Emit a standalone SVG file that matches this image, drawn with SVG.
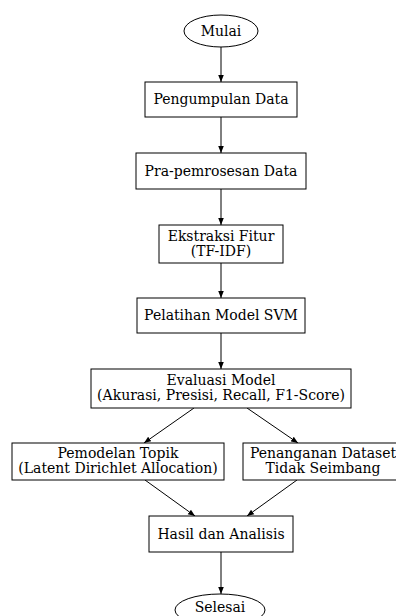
<svg xmlns="http://www.w3.org/2000/svg" width="396" height="616" viewBox="0 0 396 616">
<defs>
<marker id="ah" viewBox="0 0 10 10" refX="10" refY="5" markerWidth="7" markerHeight="7" markerUnits="userSpaceOnUse" orient="auto">
<path d="M0,1 L10,5 L0,9 z" fill="#000"/>
</marker>
<style>
.n{fill:#fff;stroke:#000;stroke-width:1}
.t{font-family:"DejaVu Serif",serif;font-size:14px;fill:#000;text-anchor:middle}
.e{fill:none;stroke:#000;stroke-width:1;marker-end:url(#ah)}
</style>
</defs>
<rect width="396" height="616" fill="#fff"/>
<g id="connectors">
<line class="e" x1="221" y1="47" x2="221" y2="82"/>
<line class="e" x1="221" y1="117" x2="221" y2="153"/>
<line class="e" x1="221" y1="189" x2="221" y2="225"/>
<line class="e" x1="221" y1="263" x2="221" y2="298"/>
<line class="e" x1="221" y1="333" x2="221" y2="369"/>
<line class="e" x1="194" y1="408" x2="144" y2="443"/>
<line class="e" x1="247" y1="408" x2="298" y2="443"/>
<line class="e" x1="145" y1="480" x2="195" y2="516"/>
<line class="e" x1="297" y1="480" x2="247" y2="516"/>
<line class="e" x1="221" y1="552" x2="221" y2="594"/>
</g>
<g id="mulai"><ellipse class="n" cx="221" cy="31" rx="37" ry="16"/><text class="t" x="221" y="36">Mulai</text></g>
<g id="pengumpulan"><rect class="n" x="145" y="82" width="152" height="35"/><text class="t" x="221" y="104">Pengumpulan Data</text></g>
<g id="prapemrosesan"><rect class="n" x="136" y="153" width="170" height="36"/><text class="t" x="221" y="176">Pra-pemrosesan Data</text></g>
<g id="ekstraksi"><rect class="n" x="159" y="225" width="124" height="38"/><text class="t" x="221" y="241">Ekstraksi Fitur</text><text class="t" x="221" y="256">(TF-IDF)</text></g>
<g id="pelatihan"><rect class="n" x="137" y="298" width="168" height="35"/><text class="t" x="221" y="320">Pelatihan Model SVM</text></g>
<g id="evaluasi"><rect class="n" x="91" y="369" width="260" height="39"/><text class="t" x="221" y="385">Evaluasi Model</text><text class="t" x="221" y="400">(Akurasi, Presisi, Recall, F1-Score)</text></g>
<g id="pemodelan"><rect class="n" x="12" y="443" width="212" height="37"/><text class="t" x="118" y="458">Pemodelan Topik</text><text class="t" x="118" y="473">(Latent Dirichlet Allocation)</text></g>
<g id="penanganan"><rect class="n" x="243" y="443" width="160" height="37"/><text class="t" x="323" y="458">Penanganan Dataset</text><text class="t" x="323" y="473">Tidak Seimbang</text></g>
<g id="hasil"><rect class="n" x="149" y="516" width="144" height="36"/><text class="t" x="221" y="539">Hasil dan Analisis</text></g>
<g id="selesai"><ellipse class="n" cx="220" cy="610" rx="45" ry="16"/><text class="t" x="220" y="612">Selesai</text></g>
</svg>
